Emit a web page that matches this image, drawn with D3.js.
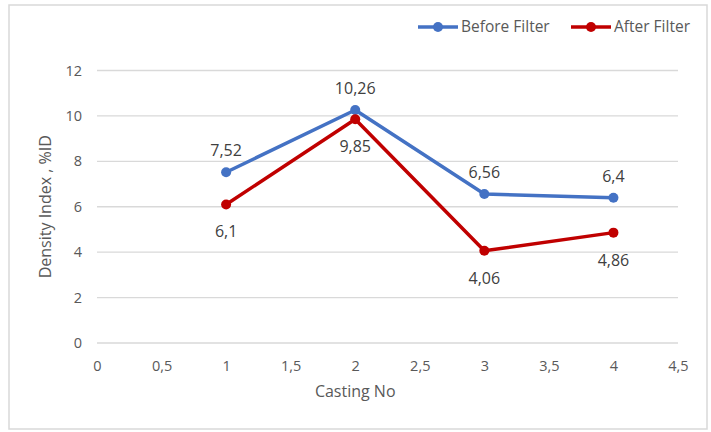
<!DOCTYPE html>
<html>
<head>
<meta charset="utf-8">
<script src="https://cdn.jsdelivr.net/npm/d3@7"></script>
<style>
html,body{margin:0;padding:0;background:#fff;}
svg{display:block;}
text{font-family:"Open Sans","Noto Sans",sans-serif;}
</style>
</head>
<body>
<svg id="chart" width="711" height="432"></svg>
<script>
const castingNo = [1, 2, 3, 4];
const beforeFilter = [7.52, 10.26, 6.56, 6.4];
const afterFilter = [6.1, 9.85, 4.06, 4.86];
const beforeLabels = ["7,52", "10,26", "6,56", "6,4"];
const afterLabels = ["6,1", "9,85", "4,06", "4,86"];
const xTicks = [0, 0.5, 1, 1.5, 2, 2.5, 3, 3.5, 4, 4.5];
const yTicks = [0, 2, 4, 6, 8, 10, 12];
const seriesNames = ["Before Filter", "After Filter"];
const seriesColors = ["#4472C4", "#C00000"];

const svg = d3.select("#chart");
svg.append("rect").attr("x", 9).attr("y", 5).attr("width", 698).attr("height", 424)
  .attr("fill", "#fff").attr("stroke", "#d9d9d9").attr("stroke-width", 1.5);

const x = d3.scaleLinear().domain([0, 4.5]).range([97, 678]);
const y = d3.scaleLinear().domain([0, 12]).range([343, 70.5]);
const fmt = d => String(d).replace(".", ",");

// gridlines
svg.append("g").selectAll("line").data(yTicks).join("line")
  .attr("x1", x(0)).attr("x2", x(4.5))
  .attr("y1", d => y(d)).attr("y2", d => y(d))
  .attr("stroke", "#d9d9d9").attr("stroke-width", 1.3);

// axes
const yAxis = d3.axisLeft(y).tickValues(yTicks).tickSize(0).tickPadding(15).tickFormat(fmt);
const gy = svg.append("g").attr("transform", `translate(${x(0)},0)`).call(yAxis);
gy.select(".domain").remove();
gy.selectAll("text").attr("fill", "#595959").style("font-size", "14.5px");

const xAxis = d3.axisBottom(x).tickValues(xTicks).tickSize(0).tickPadding(18).tickFormat(fmt);
const gx = svg.append("g").attr("transform", `translate(0,${y(0)})`).call(xAxis);
gx.select(".domain").remove();
gx.selectAll("text").attr("fill", "#595959").style("font-size", "14.5px");

// axis titles
svg.append("text").attr("x", x(2)).attr("y", 397).attr("text-anchor", "middle")
  .attr("fill", "#595959").style("font-size", "16px").text("Casting No");
svg.append("text").attr("transform", `translate(51,${(y(0)+y(12))/2}) rotate(-90)`)
  .attr("text-anchor", "middle").attr("fill", "#595959").style("font-size", "16px")
  .text("Density Index , %ID");

const line = d3.line().x(d => x(d[0])).y(d => y(d[1]));
const series = [beforeFilter, afterFilter];
series.forEach((vals, i) => {
  const pts = castingNo.map((c, j) => [c, vals[j]]);
  svg.append("path").datum(pts).attr("d", line).attr("fill", "none")
    .attr("stroke", seriesColors[i]).attr("stroke-width", 3.5).attr("stroke-linejoin", "round");
  svg.append("g").selectAll("circle").data(pts).join("circle")
    .attr("cx", d => x(d[0])).attr("cy", d => y(d[1])).attr("r", 5)
    .attr("fill", seriesColors[i]);
});

// data labels
svg.append("g").selectAll("text").data(castingNo).join("text")
  .attr("x", d => x(d)).attr("y", (d, j) => y(beforeFilter[j]) - 16)
  .attr("text-anchor", "middle").attr("fill", "#404040").style("font-size", "16px")
  .text((d, j) => beforeLabels[j]);
svg.append("g").selectAll("text").data(castingNo).join("text")
  .attr("x", d => x(d)).attr("y", (d, j) => y(afterFilter[j]) + 33)
  .attr("text-anchor", "middle").attr("fill", "#404040").style("font-size", "16px")
  .text((d, j) => afterLabels[j]);

// legend
const legX = [418, 571];
seriesNames.forEach((n, i) => {
  const g = svg.append("g").attr("transform", `translate(${legX[i]},27)`);
  g.append("line").attr("x1", 0).attr("x2", 40).attr("stroke", seriesColors[i]).attr("stroke-width", 3.5);
  g.append("circle").attr("cx", 20).attr("r", 5).attr("fill", seriesColors[i]);
  g.append("text").attr("x", 43).attr("dy", "0.35em").attr("fill", "#595959")
    .style("font-size", "15.5px").text(n);
});
</script>
</body>
</html>
